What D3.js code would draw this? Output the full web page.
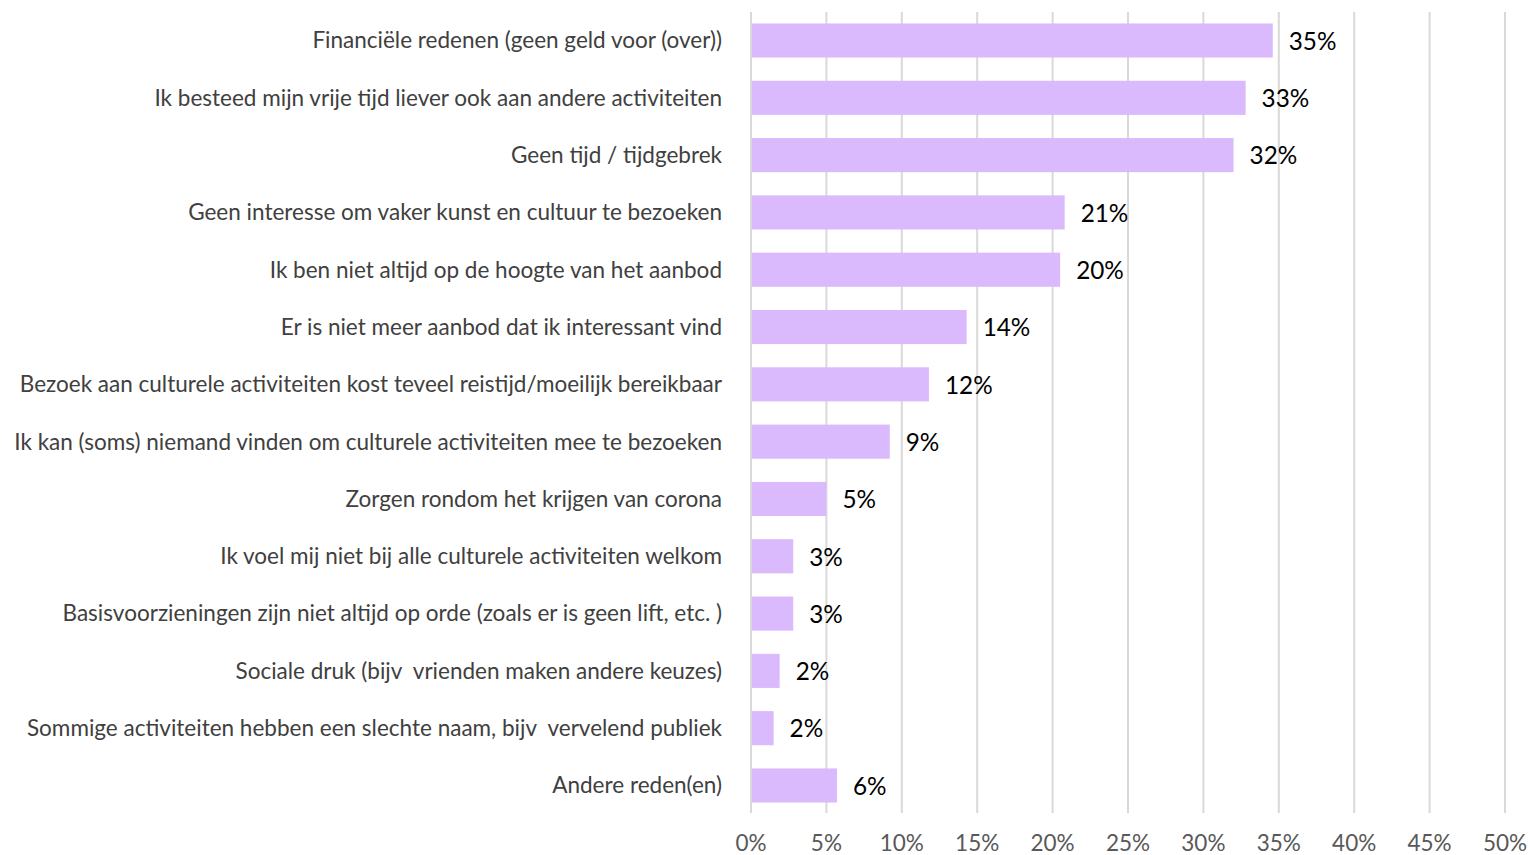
<!DOCTYPE html>
<html>
<head>
<meta charset="utf-8">
<script src="https://cdn.jsdelivr.net/npm/d3@7"></script>
<style>
  body { margin: 0; background: #fff; }
  svg { display: block; font-family: Lato, "Open Sans", sans-serif; }
</style>
</head>
<body>
<svg id="chart" width="1532" height="855"></svg>
<script>
// reasons, top to bottom
const categories = [
  "Financiële redenen (geen geld voor (over))",
  "Ik besteed mijn vrije tijd liever ook aan andere activiteiten",
  "Geen tijd / tijdgebrek",
  "Geen interesse om vaker kunst en cultuur te bezoeken",
  "Ik ben niet altijd op de hoogte van het aanbod",
  "Er is niet meer aanbod dat ik interessant vind",
  "Bezoek aan culturele activiteiten kost teveel reistijd/moeilijk bereikbaar",
  "Ik kan (soms) niemand vinden om culturele activiteiten mee te bezoeken",
  "Zorgen rondom het krijgen van corona",
  "Ik voel mij niet bij alle culturele activiteiten welkom",
  "Basisvoorzieningen zijn niet altijd op orde (zoals er is geen lift, etc. )",
  "Sociale druk (bijv  vrienden maken andere keuzes)",
  "Sommige activiteiten hebben een slechte naam, bijv  vervelend publiek",
  "Andere reden(en)"
];
// bar lengths (percent)
const values = [34.6, 32.8, 32.0, 20.8, 20.5, 14.3, 11.8, 9.2, 5.0, 2.8, 2.8, 1.9, 1.5, 5.7];
// rounded labels shown next to the bars
const valueLabels = ["35%", "33%", "32%", "21%", "20%", "14%", "12%", "9%", "5%", "3%", "3%", "2%", "2%", "6%"];
const xTicks = [0, 5, 10, 15, 20, 25, 30, 35, 40, 45, 50];

const svg = d3.select("#chart");

const x = d3.scaleLinear()
  .domain([0, 50])
  .range([751, 1505]);

const y = d3.scaleBand()
  .domain(categories)
  .range([12, 814])
  .paddingInner(0.405)
  .paddingOuter(0.2);

// gridlines
svg.append("g")
  .selectAll("line")
  .data(xTicks)
  .join("line")
  .attr("x1", d => x(d))
  .attr("x2", d => x(d))
  .attr("y1", 12)
  .attr("y2", 813)
  .attr("stroke", "#d9d9d9")
  .attr("stroke-width", 2);

// bars
svg.append("g")
  .selectAll("rect")
  .data(values)
  .join("rect")
  .attr("x", x(0) + 1)
  .attr("y", (d, i) => y(categories[i]))
  .attr("width", d => x(d) - x(0) - 1)
  .attr("height", y.bandwidth())
  .attr("fill", "#dab9fd");

// category labels, sized so the longest one spans like in the original
const catText = svg.append("g")
  .selectAll("text")
  .data(categories)
  .join("text")
  .attr("x", 722)
  .attr("y", d => y(d) + y.bandwidth() / 2)
  .attr("dy", "0.35em")
  .attr("text-anchor", "end")
  .attr("font-size", 20)
  .attr("fill", "#404040")
  .style("white-space", "pre")
  .text(d => d);

let widest = d3.max(catText.nodes(), n => n.getComputedTextLength());
let fs = 20 * 708 / widest;
catText.attr("font-size", fs);

// value labels
svg.append("g")
  .selectAll("text")
  .data(values)
  .join("text")
  .attr("x", d => x(d) + 16)
  .attr("y", (d, i) => y(categories[i]) + y.bandwidth() / 2)
  .attr("dy", "0.38em")
  .attr("font-size", fs * 1.08)
  .attr("fill", "#000")
  .text((d, i) => valueLabels[i]);

// x axis labels
svg.append("g")
  .selectAll("text")
  .data(xTicks)
  .join("text")
  .attr("x", d => x(d))
  .attr("y", 843)
  .attr("dy", "0.35em")
  .attr("text-anchor", "middle")
  .attr("font-size", fs)
  .attr("fill", "#595959")
  .text(d => d + "%");
</script>
</body>
</html>
